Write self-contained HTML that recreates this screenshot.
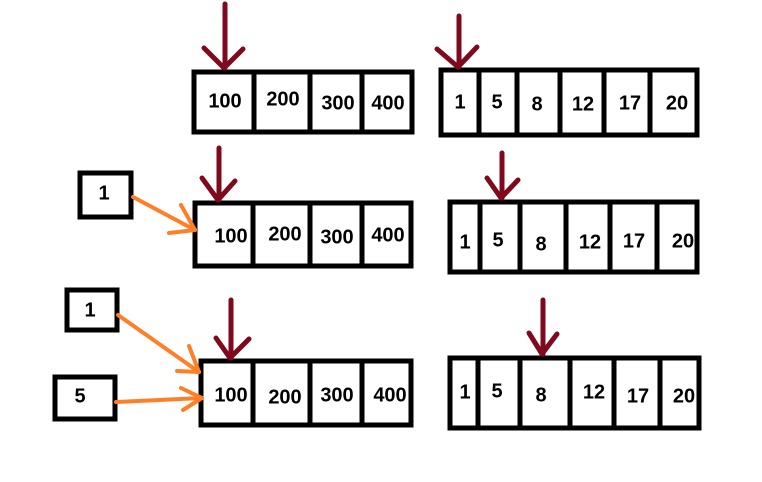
<!DOCTYPE html>
<html><head><style>
html,body{margin:0;padding:0;background:#fff;}
svg{display:block;}
text{font-family:"Liberation Sans",sans-serif;font-size:20px;font-weight:bold;fill:#000;text-anchor:middle;dominant-baseline:middle;}
</style></head><body>
<svg width="762" height="482" viewBox="0 0 762 482" xmlns="http://www.w3.org/2000/svg">
<rect width="762" height="482" fill="#fff"/>
<g fill="none" stroke="#000" stroke-width="5">
<rect x="194" y="72" width="218" height="60"/>
<line x1="254" y1="72" x2="254" y2="132"/><line x1="310" y1="72" x2="310" y2="132"/><line x1="362" y1="72" x2="362" y2="132"/>
<rect x="441" y="70" width="256" height="65"/>
<line x1="479" y1="70" x2="479" y2="135"/><line x1="517" y1="70" x2="517" y2="135"/><line x1="560" y1="70" x2="560" y2="135"/><line x1="604" y1="70" x2="604" y2="135"/><line x1="650" y1="70" x2="650" y2="135"/>
<rect x="80" y="173" width="51" height="44"/>
<rect x="195" y="203" width="216" height="63"/>
<line x1="253" y1="203" x2="253" y2="266"/><line x1="310" y1="203" x2="310" y2="266"/><line x1="362" y1="203" x2="362" y2="266"/>
<rect x="450" y="202" width="247" height="70"/>
<line x1="480" y1="202" x2="480" y2="272"/><line x1="520" y1="202" x2="520" y2="272"/><line x1="566" y1="202" x2="566" y2="272"/><line x1="610" y1="202" x2="610" y2="272"/><line x1="657" y1="202" x2="657" y2="272"/>
<rect x="67" y="290" width="50" height="40"/>
<rect x="55" y="377" width="60" height="42"/>
<rect x="201" y="361" width="210" height="64"/>
<line x1="253" y1="361" x2="253" y2="425"/><line x1="310" y1="361" x2="310" y2="425"/><line x1="362" y1="361" x2="362" y2="425"/>
<rect x="450" y="358" width="249" height="70"/>
<line x1="478" y1="358" x2="478" y2="428"/><line x1="520" y1="358" x2="520" y2="428"/><line x1="570" y1="358" x2="570" y2="428"/><line x1="614" y1="358" x2="614" y2="428"/><line x1="660" y1="358" x2="660" y2="428"/>
</g>
<g fill="none" stroke="#7f0a1e" stroke-width="5" stroke-linecap="round" stroke-linejoin="round">
<line x1="225" y1="4" x2="225" y2="68"/><polyline points="204,48 224,68 243,49"/>
<line x1="459" y1="16" x2="459" y2="67"/><polyline points="437,49 458,67 477,47"/>
<line x1="219" y1="148" x2="219" y2="200"/><polyline points="202,178 218,200 235,181"/>
<line x1="502" y1="153" x2="502" y2="198"/><polyline points="487,178 501,198 518,180"/>
<line x1="231" y1="300" x2="231" y2="358"/><polyline points="216,338 230,358 249,339"/>
<line x1="543" y1="300" x2="543" y2="354"/><polyline points="529,333 542,354 557,334"/>
</g>
<g fill="none" stroke="#ff7f27" stroke-width="4" stroke-linecap="round">
<line x1="133" y1="197" x2="195" y2="230"/><line x1="181" y1="205" x2="195" y2="230"/><line x1="169" y1="233" x2="195" y2="230"/>
<line x1="118" y1="315" x2="199" y2="372"/><line x1="189" y1="346" x2="199" y2="372"/><line x1="177" y1="371" x2="199" y2="372"/>
<line x1="116" y1="402" x2="202" y2="398"/><line x1="181" y1="388" x2="202" y2="398"/><line x1="183" y1="410" x2="202" y2="398"/>
</g>
<text x="225" y="102">100</text><text x="283" y="100">200</text><text x="338" y="104">300</text><text x="388" y="104">400</text>
<text x="460" y="103">1</text><text x="497" y="103">5</text><text x="537" y="105">8</text><text x="583" y="105">12</text><text x="630" y="104">17</text><text x="677" y="104">20</text>
<text x="104" y="194">1</text>
<text x="231" y="237">100</text><text x="285" y="235">200</text><text x="337" y="238">300</text><text x="388" y="236">400</text>
<text x="465" y="243">1</text><text x="498" y="241">5</text><text x="541" y="245">8</text><text x="590" y="243">12</text><text x="634" y="242">17</text><text x="683" y="242">20</text>
<text x="90" y="311">1</text><text x="80" y="397">5</text>
<text x="231" y="396">100</text><text x="285" y="398">200</text><text x="337" y="396">300</text><text x="390" y="396">400</text>
<text x="465" y="393">1</text><text x="497" y="392">5</text><text x="541" y="396">8</text><text x="594" y="393">12</text><text x="638" y="397">17</text><text x="684" y="397">20</text>
</svg>
</body></html>
